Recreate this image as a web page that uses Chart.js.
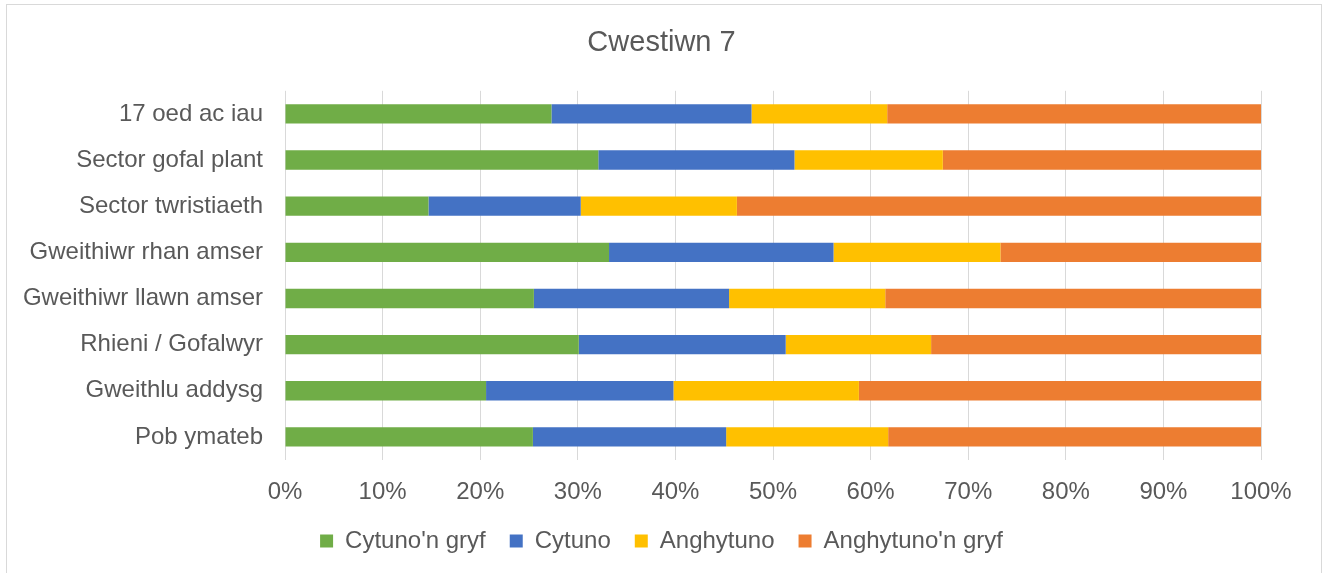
<!DOCTYPE html>
<html>
<head>
<meta charset="utf-8">
<title>Cwestiwn 7</title>
<script src="https://cdn.jsdelivr.net/npm/chart.js@4/dist/chart.umd.min.js"></script>
<style>
    html, body { margin: 0; padding: 0; background: #fff; overflow: hidden; }
    #wrap { position: relative; width: 1323px; height: 573px; }
    #frame {
        position: absolute; left: 6px; top: 4px; width: 1314px; height: 600px;
        border: 1px solid #d9d9d9; pointer-events: none;
    }
</style>
</head>
<body>
<div id="wrap">
    <canvas id="chart" width="1323" height="573"></canvas>
    <div id="frame"></div>
</div>
<script>
// categories, top to bottom
const categories = [
    '17 oed ac iau',
    'Sector gofal plant',
    'Sector twristiaeth',
    'Gweithiwr rhan amser',
    'Gweithiwr llawn amser',
    'Rhieni / Gofalwyr',
    'Gweithlu addysg',
    'Pob ymateb'
];

const seriesNames = ["Cytuno'n gryf", 'Cytuno', 'Anghytuno', "Anghytuno'n gryf"];

// percent values
const cytunoGryf     = [27.3, 32.1, 14.7, 33.2, 25.5, 30.1, 20.6, 25.4];
const cytuno         = [20.5, 20.1, 15.6, 23.0, 20.0, 21.2, 19.2, 19.8];
const anghytuno      = [13.9, 15.2, 16.0, 17.1, 16.0, 14.9, 19.0, 16.6];
const anghytunoGryf  = [38.3, 32.6, 53.7, 26.7, 38.5, 33.8, 41.2, 38.2];

const tickValues = [0, 10, 20, 30, 40, 50, 60, 70, 80, 90, 100];

const colors = ['#70ad47', '#4472c4', '#ffc000', '#ed7d31'];
const FONT = '"Liberation Sans", Arial, sans-serif';
const GREY = '#595959';

const makeDataset = (label, data, color) => ({
    label: label,
    data: data,
    backgroundColor: color,
    borderWidth: 0,
    barPercentage: 0.42,
    categoryPercentage: 1.0
});

const createChart = () => {
    const allSeries = [cytunoGryf, cytuno, anghytuno, anghytunoGryf];
    const datasets = allSeries.map((d, i) => makeDataset(seriesNames[i], d, colors[i]));

    const config = {
        type: 'bar',
        data: { labels: categories, datasets },
        options: {
            indexAxis: 'y',
            responsive: false,
            animation: false,
            layout: { padding: { left: 0, right: 0, top: 0, bottom: 10 } },
            plugins: {
                title: {
                    display: true,
                    text: 'Cwestiwn 7',
                    color: GREY,
                    font: { family: FONT, size: 29, weight: 'normal' },
                    padding: { top: 26, bottom: 30 }
                },
                legend: {
                    position: 'bottom',
                    labels: {
                        color: GREY,
                        font: { family: FONT, size: 24 },
                        boxWidth: 13,
                        boxHeight: 13,
                        padding: 24
                    }
                },
                tooltip: { enabled: false }
            },
            scales: {
                x: {
                    stacked: true,
                    min: 0,
                    max: 100,
                    afterBuildTicks: (scale) => {
                        scale.ticks = tickValues.map(v => ({ value: v }));
                    },
                    afterFit: (scale) => { scale.height = 45; },
                    grid: { color: '#d9d9d9', drawTicks: false },
                    border: { display: false },
                    ticks: {
                        color: GREY,
                        font: { family: FONT, size: 24 },
                        padding: 18,
                        callback: (v) => v + '%'
                    }
                },
                y: {
                    stacked: true,
                    afterFit: (scale) => { scale.width = 285; },
                    grid: { display: false, drawTicks: false },
                    border: { display: false },
                    ticks: {
                        color: GREY,
                        font: { family: FONT, size: 24 },
                        padding: 22
                    }
                },
                // empty right-hand axis, keeps space on the right so title and legend stay centred
                yRight: {
                    type: 'category',
                    position: 'right',
                    afterFit: (scale) => { scale.width = 62; },
                    grid: { display: false, drawTicks: false },
                    border: { display: false },
                    ticks: { display: false }
                }
            }
        }
    };

    new Chart(document.getElementById('chart'), config);
};

window.onload = createChart;
</script>
</body>
</html>
